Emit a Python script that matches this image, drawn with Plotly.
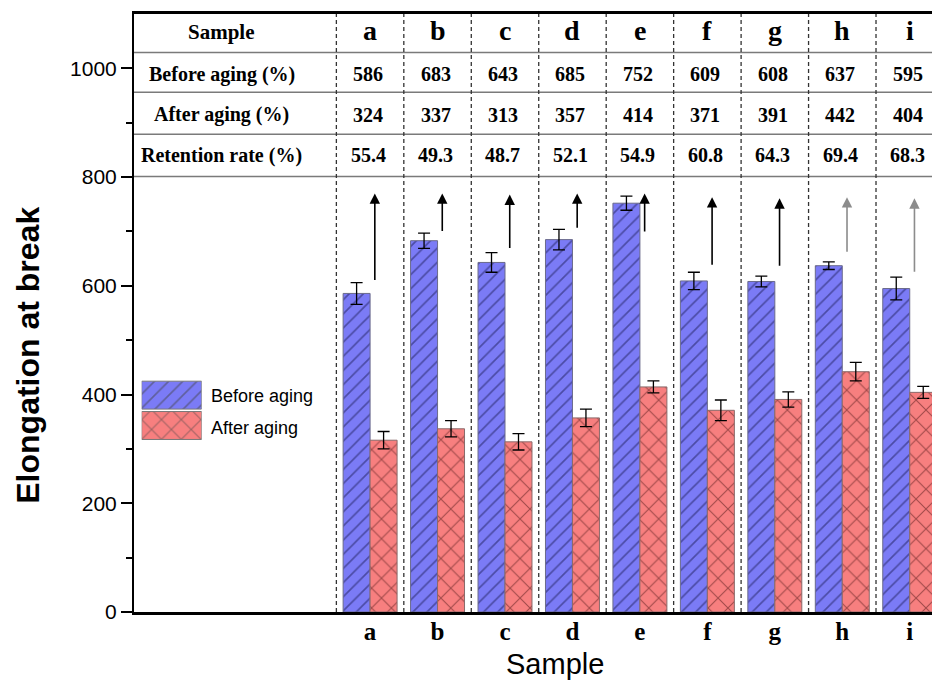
import plotly.graph_objects as go

# ---------------- data ----------------
samples = ["a", "b", "c", "d", "e", "f", "g", "h", "i"]
before_table = [586, 683, 643, 685, 752, 609, 608, 637, 595]
after_table = [324, 337, 313, 357, 414, 371, 391, 442, 404]
retention = ["55.4", "49.3", "48.7", "52.1", "54.9", "60.8", "64.3", "69.4", "68.3"]

before_bar = [586, 683, 643, 685, 752, 609, 608, 637, 595]
before_err = [20, 14, 18, 19, 13, 16, 10, 7, 21]
after_bar = [316, 337, 313, 357, 414, 371, 391, 442, 404]
after_err = [16, 15, 15, 16, 11, 19, 14, 17, 11]

arrow_start = [608, 698, 667, 704, 697, 636, 634, 660, 623]
arrow_end = [770, 770, 768, 770, 770, 763, 761, 763, 761]

row_labels = ["Sample", "Before aging (%)", "After aging (%)", "Retention rate (%)"]
legend_labels = ["Before aging", "After aging"]
y_tick_vals = [0, 200, 400, 600, 800, 1000]

# ---------------- styles ----------------
SERIF = "Liberation Serif"
SANS = "Liberation Sans"
BLUE = "#7b7bf6"
RED = "#f77f7f"
BLUE_FG = "#1c1c55"
RED_FG = "#4a1515"

first_pos = 3
pos = [first_pos + i for i in range(len(samples))]

fig = go.Figure()

fig.add_trace(go.Bar(
    x=pos, y=before_bar, name=legend_labels[0], offset=-0.4, width=0.4,
    marker=dict(color=BLUE, line=dict(color="#6a6a8a", width=1),
                pattern=dict(shape="/", fgcolor=BLUE_FG, size=10, solidity=0.17)),
    error_y=dict(type="data", array=before_err, color="black", thickness=1.3, width=6),
    showlegend=False,
))
fig.add_trace(go.Bar(
    x=pos, y=after_bar, name=legend_labels[1], offset=0.0, width=0.4,
    marker=dict(color=RED, line=dict(color="#8a6a6a", width=1),
                pattern=dict(shape="x", fgcolor=RED_FG, size=14, solidity=0.15)),
    error_y=dict(type="data", array=after_err, color="black", thickness=1.3, width=6),
    showlegend=False,
))

# legend swatches drawn as bars on a small overlay axis
fig.add_trace(go.Bar(
    x=[1, 1], y=[1, 0], orientation="h", width=0.92, xaxis="x2", yaxis="y2",
    marker=dict(color=[BLUE, RED], line=dict(color="#777", width=1),
                pattern=dict(shape=["/", "x"], fgcolor=[BLUE_FG, RED_FG],
                             size=[10, 14], solidity=[0.17, 0.15])),
    showlegend=False, hoverinfo="skip",
))

ann = []
# table header row
ann.append(dict(x=0.8, y=1066, xref="x", yref="y", text=row_labels[0], showarrow=False,
                font=dict(family=SERIF, size=21, color="black", weight="bold")))
for p, s in zip(pos, samples):
    ann.append(dict(x=p, y=1069, xref="x", yref="y", text=s, showarrow=False,
                    font=dict(family=SERIF, size=28, color="black", weight="bold")))
rows_y = [989, 915, 840]
row_vals = [[str(v) for v in before_table], [str(v) for v in after_table], retention]
for lab, ry, vals in zip(row_labels[1:], rows_y, row_vals):
    ann.append(dict(x=0.8, y=ry, xref="x", yref="y", text=lab, showarrow=False,
                    font=dict(family=SERIF, size=20, color="black", weight="bold")))
    for p, v in zip(pos, vals):
        ann.append(dict(x=p - 0.03, y=ry, xref="x", yref="y", text=v, showarrow=False,
                        font=dict(family=SERIF, size=20, color="black", weight="bold")))

# arrows
for i, (p, a0, a1) in enumerate(zip(pos, arrow_start, arrow_end)):
    col = "#8c8c8c" if i >= 7 else "black"
    ann.append(dict(x=p + 0.07, y=a1, ax=p + 0.07, ay=a0, xref="x", yref="y",
                    axref="x", ayref="y", text="", showarrow=True, arrowhead=2,
                    arrowsize=1.3, arrowwidth=1.6, arrowcolor=col, standoff=0))

# legend text
for lab, ly in zip(legend_labels, [0.362, 0.307]):
    ann.append(dict(x=0.094, y=ly, xref="paper", yref="paper", text=lab, showarrow=False,
                    xanchor="left", yanchor="middle",
                    font=dict(family=SANS, size=18, color="black")))

# axis titles
ann.append(dict(x=-0.133, y=0.43, xref="paper", yref="paper", text="Elongation at break",
                textangle=-90, showarrow=False, xanchor="center", yanchor="middle",
                font=dict(family=SANS, size=32, color="black", weight="bold")))
ann.append(dict(x=0.5276, y=-0.087, xref="paper", yref="paper", text="Sample",
                showarrow=False, xanchor="center", yanchor="middle",
                font=dict(family=SANS, size=29, color="black")))

shapes = []
for p in pos:
    shapes.append(dict(type="line", xref="x", yref="y", x0=p - 0.5, x1=p - 0.5, y0=0, y1=1100,
                       line=dict(color="#333333", width=1.3, dash="4px,3px"), layer="below"))
for ty in [1029, 956, 879, 801]:
    shapes.append(dict(type="line", xref="paper", yref="y", x0=0, x1=1, y0=ty, y1=ty,
                       line=dict(color="#7a7a7a", width=1.5), layer="below"))

fig.update_layout(
    width=932, height=682, autosize=False,
    margin=dict(l=134, r=0, t=14, b=70),
    paper_bgcolor="white", plot_bgcolor="white",
    barmode="overlay",
    showlegend=False,
    annotations=ann, shapes=shapes,
    xaxis=dict(range=[-0.5, 11.33], tickmode="array", tickvals=pos, ticktext=samples,
               ticks="", showgrid=False, zeroline=False, showline=True, linecolor="black",
               linewidth=2.5, mirror=True, ticklabelstandoff=-5,
               tickfont=dict(family=SERIF, size=25, color="black", weight="bold")),
    yaxis=dict(range=[0, 1100], tickmode="array", tickvals=y_tick_vals, ticks="outside",
               ticklen=11, tickwidth=1.5, tickcolor="black", showgrid=False, zeroline=False,
               showline=True, linecolor="black", linewidth=2,
               minor=dict(tickmode="array", tickvals=[100, 300, 500, 700, 900],
                          ticks="outside", ticklen=6, tickwidth=1.5, tickcolor="black"),
               tickfont=dict(family=SANS, size=21, color="black")),
    xaxis2=dict(domain=[0.0096, 0.0848], anchor="y2", range=[0, 1], visible=False,
                fixedrange=True),
    yaxis2=dict(domain=[0.2865, 0.388], anchor="x2", range=[-0.5, 1.5], visible=False,
                fixedrange=True),
)

fig.write_html("out.html", config={"displayModeBar": False},
               post_script="document.body.style.margin='0';document.body.style.overflow='hidden';")
